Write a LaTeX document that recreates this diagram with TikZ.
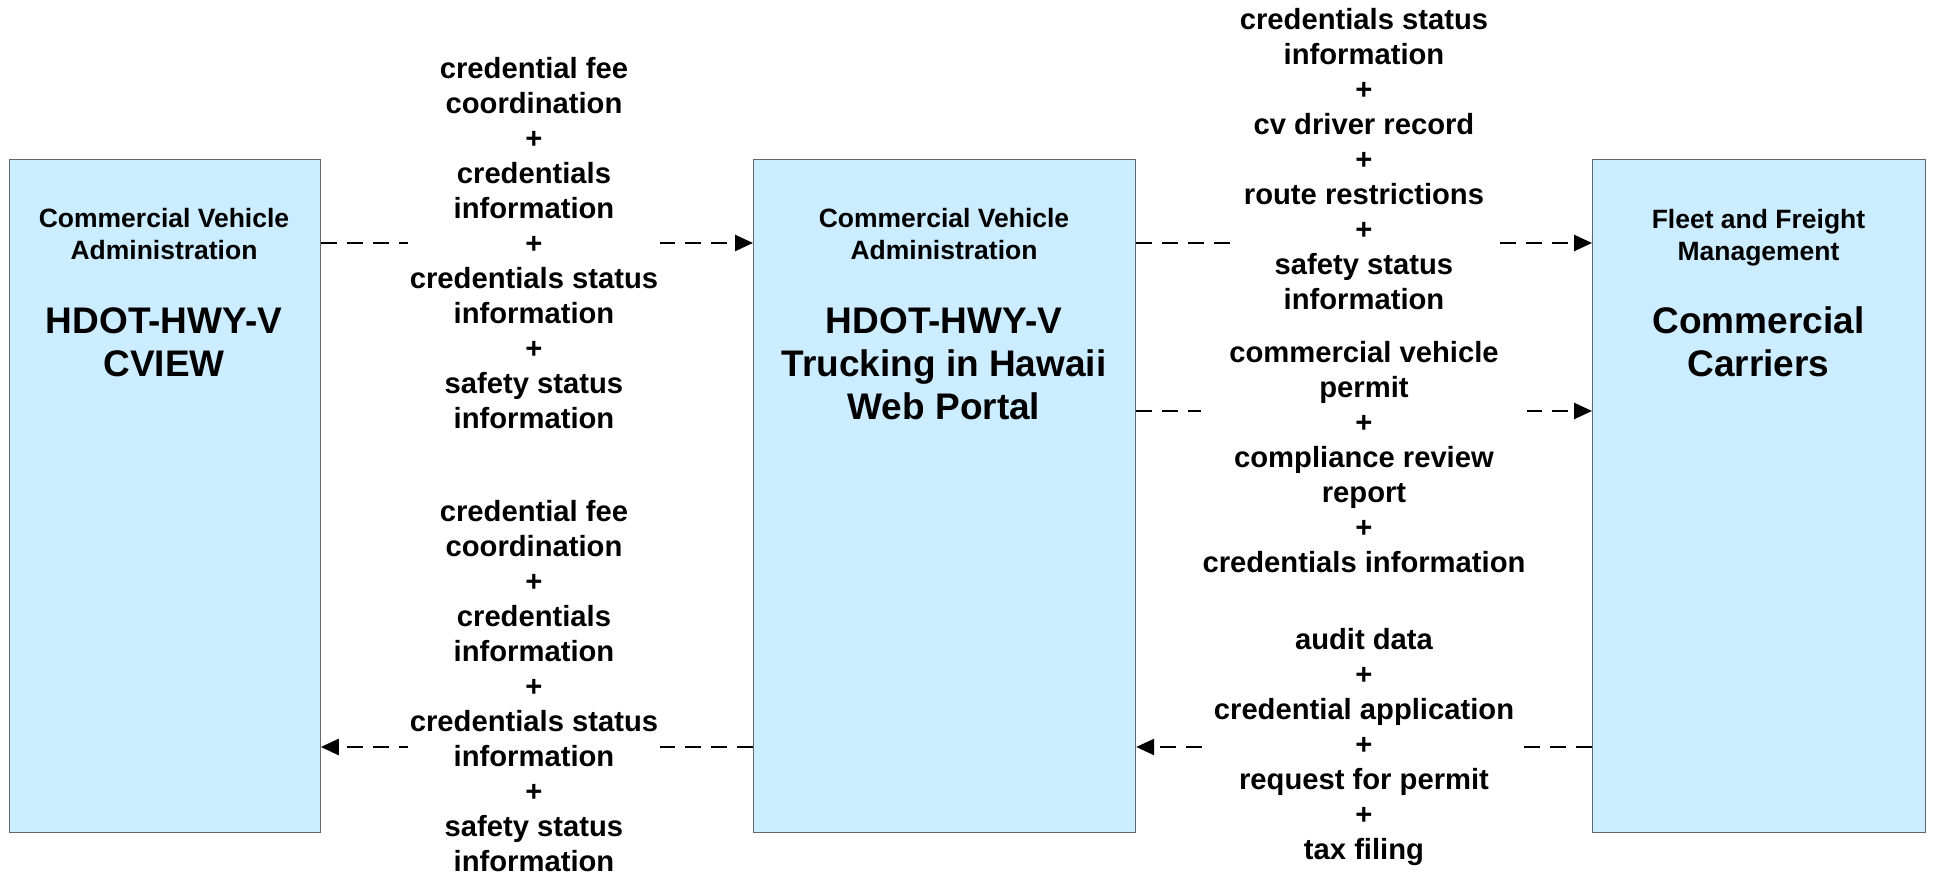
\documentclass[tikz,border=0pt]{standalone}
\usepackage{fontspec}
\setmainfont{Liberation Sans}
\usetikzlibrary{arrows.meta}
\definecolor{boxblue}{RGB}{204,236,255}
\definecolor{boxline}{RGB}{95,105,115}
\newcommand\lblfont{\fontsize{14.6pt}{17.5pt}\selectfont\bfseries}
\newcommand\ttlfont{\fontsize{13.25pt}{16pt}\selectfont\bfseries}
\newcommand\bigfont{\fontsize{18.5pt}{21.5pt}\selectfont\bfseries}
\begin{document}
\begin{tikzpicture}[x=0.5pt,y=-0.5pt,
  box/.style={draw=boxline, line width=0.6pt, fill=boxblue, inner sep=0pt, anchor=north west},
  lbl/.style={fill=white, inner sep=1pt, align=center, font=\lblfont},
  ttl/.style={align=center, font=\ttlfont},
  big/.style={align=center, font=\bigfont},
  flow/.style={line width=1.3pt, dash pattern=on 8pt off 5pt, -{Triangle[length=9pt,width=8pt]}}
]
\useasboundingbox (0,0) rectangle (1935,876);
\node[box, minimum width=155.5pt, minimum height=336.5pt] (L) at (8.6,159) {};
\node[box, minimum width=191pt, minimum height=336.5pt] (M) at (753,159) {};
\node[box, minimum width=166.5pt, minimum height=336.5pt] (R) at (1592,159) {};

\node[ttl] (Lt) at (164,234) {Commercial Vehicle\\Administration};
\node[big] (Lb) at (164,342) {HDOT-HWY-V\\CVIEW};
\node[ttl] (Mt) at (944,234) {Commercial Vehicle\\Administration};
\node[big] (Mb) at (944,364) {HDOT-HWY-V\\Trucking in Hawaii\\Web Portal};
\node[ttl] (Rt) at (1758.5,238) {Fleet and Freight\\Management};
\node[big] (Rb) at (1758.5,342) {Commercial\\Carriers};

\coordinate (ya) at (0,243);
\coordinate (yb) at (0,411);
\coordinate (yc) at (0,747);

\draw[flow] (L.east |- ya) -- (M.west |- ya);
\draw[flow] (M.west |- yc) -- (L.east |- yc);
\draw[flow] (M.east |- ya) -- (R.west |- ya);
\draw[flow] (M.east |- yb) -- (R.west |- yb);
\draw[flow] (R.west |- yc) -- (M.east |- yc);

\node[lbl] (l1) at (534,243) {credential fee\\coordination\\+\\credentials\\information\\+\\credentials status\\information\\+\\safety status\\information};
\node[lbl] (l2) at (534,686) {credential fee\\coordination\\+\\credentials\\information\\+\\credentials status\\information\\+\\safety status\\information};
\node[lbl] (l3) at (1364,159) {credentials status\\information\\+\\cv driver record\\+\\route restrictions\\+\\safety status\\information};
\node[lbl] (l4) at (1364,457) {commercial vehicle\\permit\\+\\compliance review\\report\\+\\credentials information};
\node[lbl] (l5) at (1364,747) {audit data\\+\\credential application\\+\\request for permit\\+\\tax filing};
\end{tikzpicture}
\end{document}
